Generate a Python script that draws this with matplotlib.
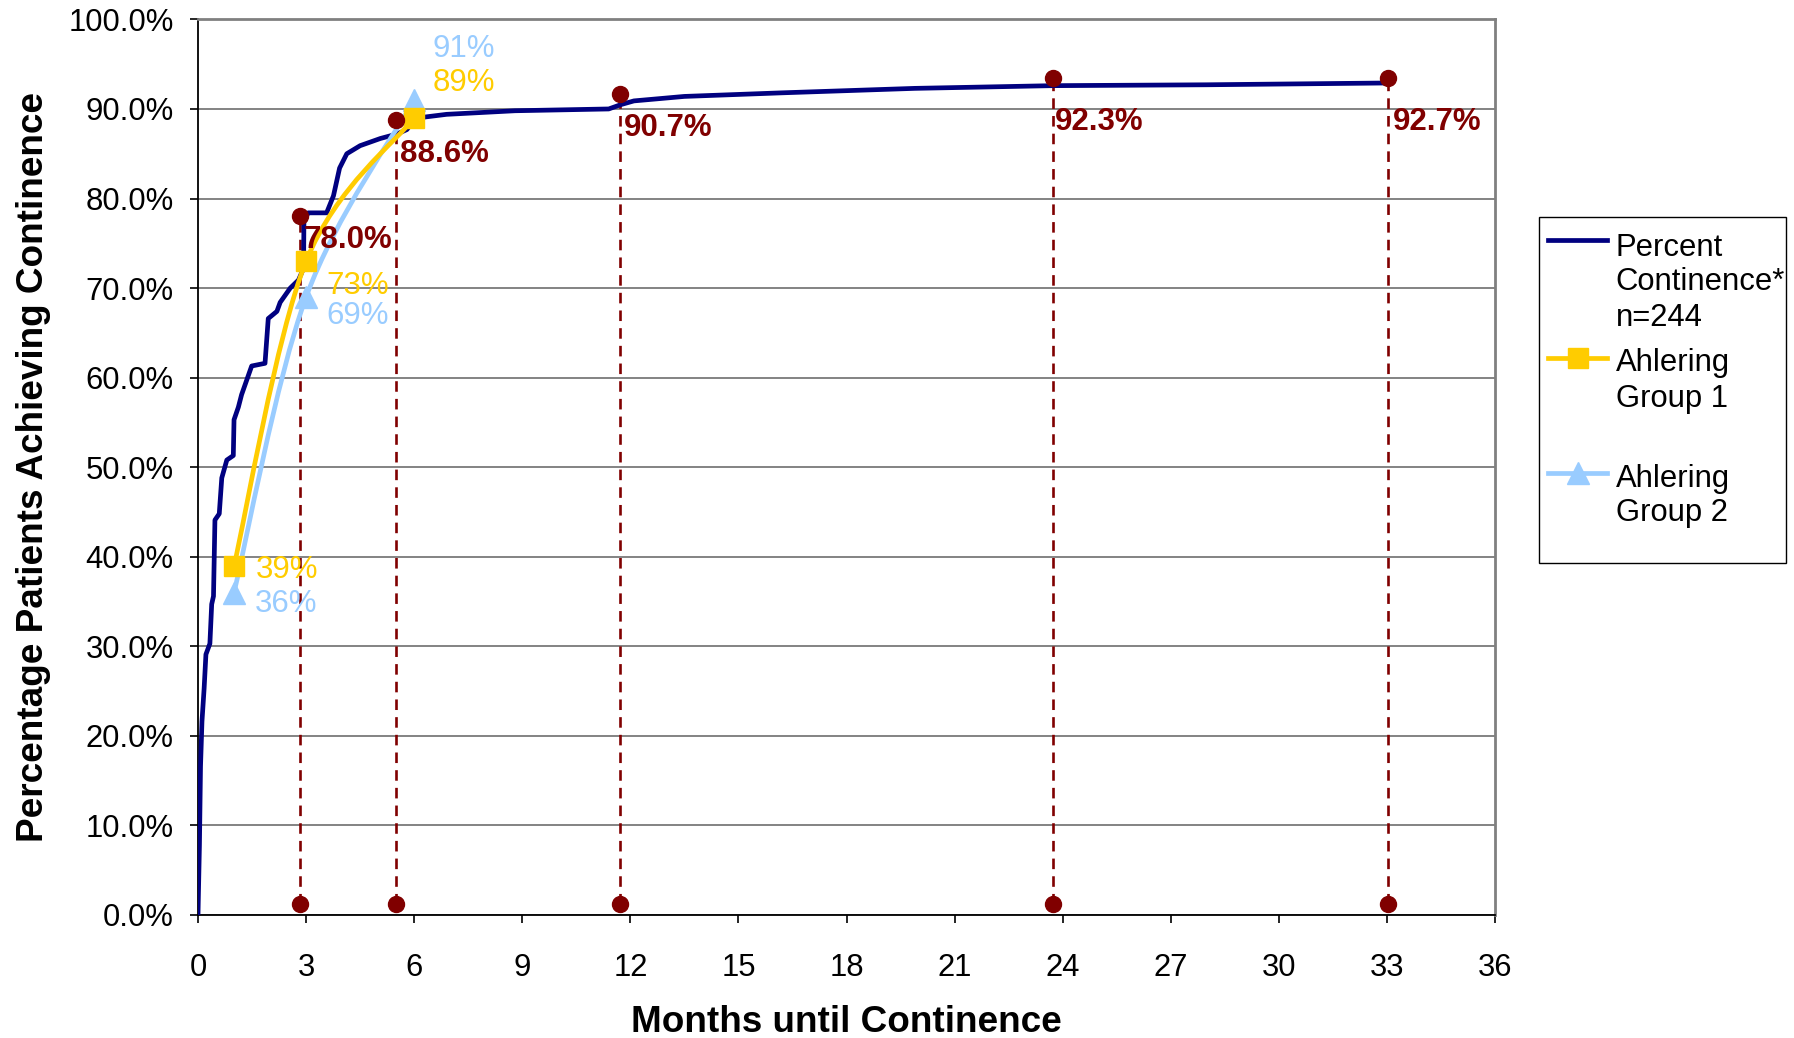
import matplotlib
matplotlib.use("Agg")
import matplotlib.pyplot as plt
from matplotlib.lines import Line2D
from matplotlib.patches import PathPatch, Rectangle
from matplotlib.path import Path
from matplotlib.ticker import FuncFormatter

plt.rcParams["font.family"] = ["Liberation Sans", "DejaVu Sans"]

# --- data ---
# percent continence curve (n=244), traced
cont_months = [0.0, 0.01, 0.04, 0.07, 0.11, 0.17, 0.22, 0.33, 0.38, 0.43, 0.47,
               0.59, 0.66, 0.80, 0.98, 1.0, 1.12, 1.21, 1.49, 1.86, 1.95, 2.19,
               2.28, 2.56, 2.79, 2.93, 2.94, 3.06, 3.57, 3.76, 3.93, 4.13, 4.5,
               5.06, 5.52, 5.8, 5.98, 6.3, 6.9, 8.8, 11.4, 11.75, 12.1, 13.5,
               16.2, 19.9, 23.7, 28.0, 33.0]
cont_pct = [0.0, 2.0, 7.8, 16.6, 21.6, 25.3, 29.1, 30.3, 34.7, 35.6, 44.1,
            44.8, 48.8, 50.8, 51.3, 55.3, 56.7, 58.1, 61.3, 61.6, 66.6, 67.4,
            68.4, 70.0, 70.9, 72.2, 77.5, 78.4, 78.4, 80.3, 83.4, 85.0, 85.9,
            86.7, 87.2, 87.7, 88.7, 89.1, 89.4, 89.8, 90.0, 90.5, 90.9, 91.4,
            91.8, 92.3, 92.6, 92.7, 92.9]

ahl_months = [1, 3, 6]
group1_pct = [39, 73, 89]
group2_pct = [36, 69, 91]
group1_labels = ["39%", "73%", "89%"]
group2_labels = ["36%", "69%", "91%"]

mark_months = [2.84, 5.49, 11.71, 23.72, 33.03]
mark_top = [78.1, 88.8, 91.7, 93.5, 93.5]
mark_bottom = [1.2, 1.2, 1.2, 1.2, 1.2]
mark_labels = ["78.0%", "88.6%", "90.7%", "92.3%", "92.7%"]

x_ticks = list(range(0, 37, 3))
y_ticks = list(range(0, 101, 10))

legend_entries = ["Percent\nContinence*\nn=244", "Ahlering\nGroup 1", "Ahlering\nGroup 2"]

NAVY = "#000080"
GOLD = "#FFCC00"
LBLUE = "#99CCFF"
DRED = "#800000"
GRID = "#808080"

W, H = 1794, 1038


def fx(px):
    return px / W


def fy(py):
    return 1 - py / H


def smooth_path(xs, ys):
    # Excel-like smoothed line (cubic bezier through the points)
    pts = list(zip(xs, ys))
    n = len(pts)
    verts, codes = [pts[0]], [Path.MOVETO]
    for i in range(n - 1):
        p0, p1 = pts[max(i - 1, 0)], pts[i]
        p2, p3 = pts[i + 1], pts[min(i + 2, n - 1)]
        c1 = (p1[0] + (p2[0] - p0[0]) / 6, p1[1] + (p2[1] - p0[1]) / 6)
        c2 = (p2[0] - (p3[0] - p1[0]) / 6, p2[1] - (p3[1] - p1[1]) / 6)
        verts += [c1, c2, p2]
        codes += [Path.CURVE4] * 3
    return Path(verts, codes)


fig = plt.figure(figsize=(W / 100, H / 100), dpi=100)
ax = fig.add_axes([fx(198), fy(915), fx(1495) - fx(198), fy(19.4) - fy(915)])

# gridlines
for y in y_ticks:
    ax.axhline(y, color="#6e6e6e", lw=1.2, zorder=1)

# dashed markers (bottom dot -> top dot)
for m, lo, hi in zip(mark_months, mark_bottom, mark_top):
    ax.plot([m, m], [lo, hi], color=DRED, lw=1.9, linestyle=(0, (4, 2.7)), zorder=2)

ax.plot(cont_months, cont_pct, color=NAVY, lw=3.4, zorder=3,
        solid_joinstyle="round")

ax.add_patch(PathPatch(smooth_path(ahl_months, group2_pct), fill=False,
                       edgecolor=LBLUE, lw=3.4, zorder=4))
ax.plot(ahl_months, group2_pct, linestyle="none", marker="^", ms=16,
        color=LBLUE, zorder=4)
ax.add_patch(PathPatch(smooth_path(ahl_months, group1_pct), fill=False,
                       edgecolor=GOLD, lw=3.4, zorder=5))
ax.plot(ahl_months, group1_pct, linestyle="none", marker="s", ms=15,
        color=GOLD, zorder=5)

ax.plot(mark_months, mark_top, linestyle="none", marker="o", ms=11.5,
        color=DRED, zorder=6)
ax.plot(mark_months, mark_bottom, linestyle="none", marker="o", ms=11.5,
        color=DRED, zorder=6)

# data labels (pixel offsets from the point)
g1_off = [(22, -12.5), (20.6, -32.7), (18.5, 27.3)]
g2_off = [(21, -19), (20.6, -27), (18.8, 43.4)]
red_off = [(3.7, -32.4), (4.2, -42.7), (4.1, -42.7), (2.5, -52.3), (4.6, -52.3)]

for m, v, t, o in zip(ahl_months, group1_pct, group1_labels, g1_off):
    ax.annotate(t, (m, v), xytext=o, textcoords="offset pixels", ha="left",
                va="baseline", fontsize=22.5, color=GOLD, zorder=7)
for m, v, t, o in zip(ahl_months, group2_pct, group2_labels, g2_off):
    ax.annotate(t, (m, v), xytext=o, textcoords="offset pixels", ha="left",
                va="baseline", fontsize=22.5, color=LBLUE, zorder=7)
for m, v, t, o in zip(mark_months, mark_top, mark_labels, red_off):
    ax.annotate(t, (m, v), xytext=o, textcoords="offset pixels", ha="left",
                va="baseline", fontsize=22.5, fontweight="bold", color=DRED,
                zorder=7)

ax.set_xlim(0, 36)
ax.set_ylim(0, 100)
ax.set_xticks(x_ticks)
ax.set_yticks(y_ticks)
ax.yaxis.set_major_formatter(FuncFormatter(lambda v, _: f"{v:.1f}%"))
ax.tick_params(axis="both", direction="out", length=6, width=1.2,
               colors="#000000", labelsize=22.3)
ax.tick_params(axis="x", pad=21)
ax.tick_params(axis="y", pad=11.5)

for side in ("left", "bottom"):
    ax.spines[side].set_color("#000000")
    ax.spines[side].set_linewidth(1.3)
for side in ("top", "right"):
    ax.spines[side].set_color(GRID)
    ax.spines[side].set_linewidth(2.0)

# axis titles
fig.text(fx(846.5), fy(1032), "Months until Continence", ha="center",
         va="baseline", fontsize=26.6, fontweight="bold")
fig.text(fx(33.5), fy(467), "Percentage Patients Achieving Continence",
         ha="center", va="center", rotation=90, fontsize=26.6,
         fontweight="bold")

# legend drawn by hand (handles line up with the first text line)
fig.add_artist(Rectangle((fx(1539), fy(563)), fx(1786) - fx(1539),
                         fy(217) - fy(563), transform=fig.transFigure,
                         facecolor="white", edgecolor="#000000", lw=1.0))
handle_y = [240.5, 358, 472.5]
handle_style = [(NAVY, None, 0), (GOLD, "s", 15), (LBLUE, "^", 16)]
for hy, (c, mk, ms) in zip(handle_y, handle_style):
    fig.add_artist(Line2D([fx(1548), fx(1607)], [fy(hy), fy(hy)],
                          transform=fig.transFigure, color=c, lw=3.4))
    if mk:
        fig.add_artist(Line2D([fx(1577.5)], [fy(hy)], transform=fig.transFigure,
                              linestyle="none", marker=mk, ms=ms, color=c))

first_baseline = [255.5, 371.5, 486.5]
for base, label in zip(first_baseline, legend_entries):
    for k, line in enumerate(label.split("\n")):
        fig.text(fx(1615.5), fy(base + k * 35), line, ha="left",
                 va="baseline", fontsize=22.3)

fig.savefig("out.png", dpi=100)
